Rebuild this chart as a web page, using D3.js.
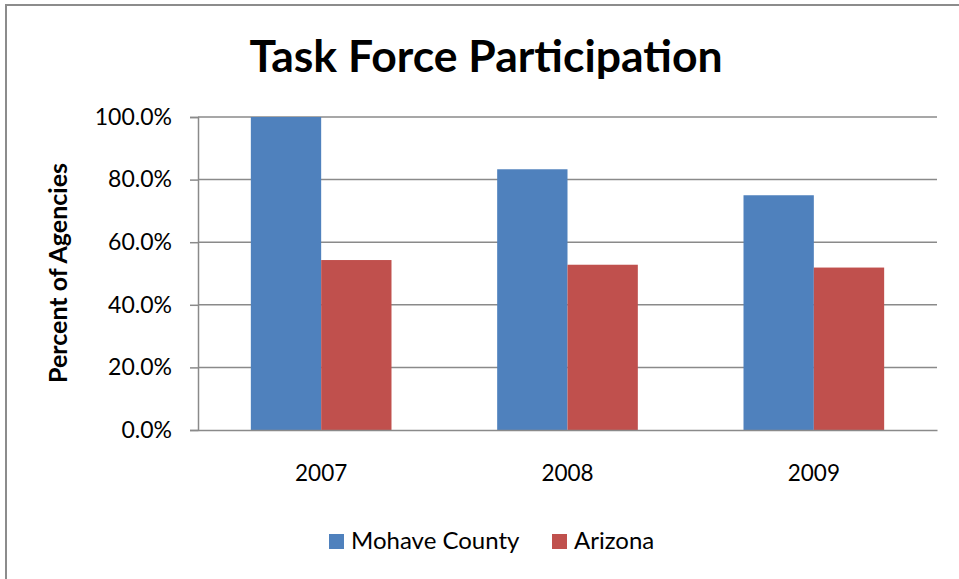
<!DOCTYPE html>
<html>
<head>
<meta charset="utf-8">
<script src="https://cdn.jsdelivr.net/npm/d3@7"></script>
<style>
  body { margin: 0; background: #fff; }
  svg text { font-family: Lato, "Open Sans", sans-serif; fill: #000; }
</style>
</head>
<body>
<svg id="chart" width="959" height="579"></svg>
<script>
// data
var years = ['2007', '2008', '2009'];
var seriesNames = ['Mohave County', 'Arizona'];
var mohave = [100.0, 83.3, 75.0];
var arizona = [54.3, 52.8, 51.9];
var yTicks = [0, 20, 40, 60, 80, 100];
var colors = ['#4F81BD', '#C0504D'];

var svg = d3.select('#chart');
var margin = { left: 198, right: 22, top: 117, bottom: 149 };
var width = 959 - margin.left - margin.right;
var height = 579 - margin.top - margin.bottom;

// outer frame
svg.append('rect')
  .attr('x', 6).attr('y', 5)
  .attr('width', 970).attr('height', 600)
  .attr('fill', 'none')
  .attr('stroke', '#8c8c8c')
  .attr('stroke-width', 2);

var x = d3.scaleBand().domain(years).range([0, width])
  .paddingInner(0.429).paddingOuter(0.2145);
var xs = d3.scaleBand().domain(seriesNames).range([0, x.bandwidth()]);
var y = d3.scaleLinear().domain([0, 100]).range([height, 0]);

var g = svg.append('g').attr('transform', 'translate(' + margin.left + ',' + margin.top + ')');

// gridlines
g.append('g').selectAll('line').data(yTicks.slice(1)).join('line')
  .attr('x1', 0).attr('x2', width)
  .attr('y1', function(d) { return y(d); }).attr('y2', function(d) { return y(d); })
  .attr('stroke', '#8a8a8a').attr('stroke-width', 1.5);

// bars
var rows = years.map(function(yr, i) { return { year: yr, vals: [mohave[i], arizona[i]] }; });
g.append('g').selectAll('g').data(rows).join('g')
  .attr('transform', function(d) { return 'translate(' + x(d.year) + ',0)'; })
  .selectAll('rect').data(function(d) { return d.vals.map(function(v, k) { return { k: k, v: v }; }); })
  .join('rect')
  .attr('x', function(d) { return xs(seriesNames[d.k]); })
  .attr('width', xs.bandwidth())
  .attr('y', function(d) { return y(d.v); })
  .attr('height', function(d) { return height - y(d.v); })
  .attr('fill', function(d) { return colors[d.k]; });

// y axis
var yAxis = g.append('g')
  .call(d3.axisLeft(y).tickValues(yTicks).tickSize(8).tickPadding(18)
    .tickFormat(function(d) { return d.toFixed(1) + '%'; }));
yAxis.select('.domain').attr('stroke', '#8a8a8a').attr('stroke-width', 1.5);
yAxis.selectAll('.tick line').attr('stroke', '#8a8a8a').attr('stroke-width', 1.5);
yAxis.selectAll('text').attr('font-size', 23).attr('fill', '#000');

// x axis
var xAxis = g.append('g').attr('transform', 'translate(0,' + height + ')')
  .call(d3.axisBottom(x).tickSize(0));
xAxis.select('.domain').attr('stroke', '#8a8a8a').attr('stroke-width', 1.5);
xAxis.selectAll('text').attr('font-size', 22.5).attr('fill', '#000')
  .attr('dy', null).attr('y', 51);

// title
svg.append('text')
  .attr('x', 486).attr('y', 72)
  .attr('text-anchor', 'middle')
  .attr('font-size', 44.5).attr('font-weight', 'bold')
  .text('Task Force Participation');

// y title
svg.append('text')
  .attr('transform', 'translate(67,273) rotate(-90)')
  .attr('text-anchor', 'middle')
  .attr('font-size', 25).attr('font-weight', 'bold')
  .text('Percent of Agencies');

// legend
var legendX = [329, 552];
var legend = svg.append('g').selectAll('g').data(seriesNames).join('g')
  .attr('transform', function(d, i) { return 'translate(' + legendX[i] + ',534)'; });
legend.append('rect').attr('width', 15).attr('height', 15)
  .attr('fill', function(d, i) { return colors[i]; });
legend.append('text').attr('x', 22).attr('y', 15)
  .attr('font-size', 24).text(function(d) { return d; });
</script>
</body>
</html>
